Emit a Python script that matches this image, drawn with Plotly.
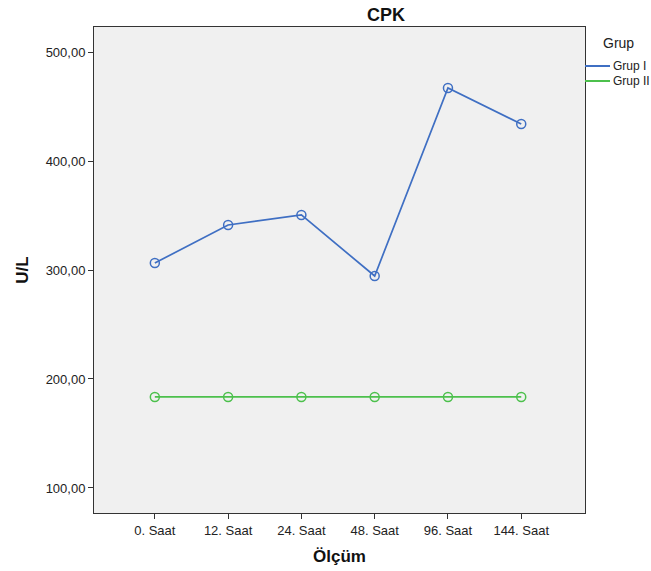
import plotly.graph_objects as go

categories = ["0. Saat", "12. Saat", "24. Saat", "48. Saat", "96. Saat", "144. Saat"]
grup1 = [306.4, 341.3, 350.5, 294.5, 467.0, 434.0]
grup2 = [183.5, 183.5, 183.5, 183.5, 183.5, 183.5]
group_names = ["Grup I", "Grup II"]
y_ticks = [100, 200, 300, 400, 500]
y_tick_labels = ["100,00", "200,00", "300,00", "400,00", "500,00"]

BLUE = "#3f6fc3"
GREEN = "#4cc04c"
colors = [BLUE, GREEN]

W, H = 651, 571
ML, MR, MT, MB = 94, 66, 27, 58
PW, PH = W - ML - MR, H - MT - MB


def px_x(px):
    return (px - ML) / PW


def px_y(py):
    return 1 - (py - MT) / PH


fig = go.Figure()
for name, vals, col in zip(group_names, [grup1, grup2], colors):
    fig.add_trace(go.Scatter(
        x=categories, y=vals, name=name, mode="lines+markers", showlegend=False,
        line=dict(color=col, width=1.7),
        marker=dict(symbol="circle-open", size=9, color=col, line=dict(width=1.5)),
    ))

# legend drawn by hand (outside the plot area, at the right)
annotations = [dict(text="Grup", xref="paper", yref="paper", x=px_x(601), y=px_y(43),
                    xanchor="left", yanchor="middle", showarrow=False,
                    font=dict(size=14, color="#222"))]
shapes = []
for i, (name, col) in enumerate(zip(group_names, colors)):
    yy = px_y(66 + 15 * i)
    shapes.append(dict(type="line", xref="paper", yref="paper",
                       x0=px_x(585), x1=px_x(610), y0=yy, y1=yy,
                       line=dict(color=col, width=2)))
    annotations.append(dict(text=name, xref="paper", yref="paper", x=px_x(611), y=yy,
                            xanchor="left", yanchor="middle", showarrow=False,
                            font=dict(size=12, color="#222")))

fig.update_layout(
    width=W, height=H,
    margin=dict(l=ML, r=MR, t=MT, b=MB, autoexpand=False),
    paper_bgcolor="white",
    plot_bgcolor="#f0f0f0",
    font=dict(family="Liberation Sans, Arial, sans-serif", color="#222", size=12),
    title=dict(text="<b>CPK</b>", x=386 / W, xanchor="center", xref="container",
               y=1 - 15 / H, yanchor="middle", yref="container",
               font=dict(size=18, color="#111")),
    showlegend=False,
    annotations=annotations,
    shapes=shapes,
    xaxis=dict(
        type="category", range=[-0.83, 5.87], automargin=False,
        showgrid=False, zeroline=False,
        showline=True, linecolor="#333", linewidth=1, mirror=True,
        ticks="outside", ticklen=5, tickcolor="#333",
        tickfont=dict(size=13),
        title=dict(text="<b>Ölçüm</b>", font=dict(size=17, color="#111"), standoff=13),
    ),
    yaxis=dict(
        range=[77, 523], automargin=False,
        tickvals=y_ticks, ticktext=y_tick_labels,
        showgrid=False, zeroline=False,
        showline=True, linecolor="#333", linewidth=1, mirror=True,
        ticks="outside", ticklen=5, tickcolor="#333",
        tickfont=dict(size=13),
        title=dict(text="<b>U/L</b>", font=dict(size=17, color="#111"), standoff=12),
    ),
)

fig.write_html(
    "out.html",
    config={"displayModeBar": False},
    post_script="document.body.style.margin='0';document.body.style.overflow='hidden';",
)
